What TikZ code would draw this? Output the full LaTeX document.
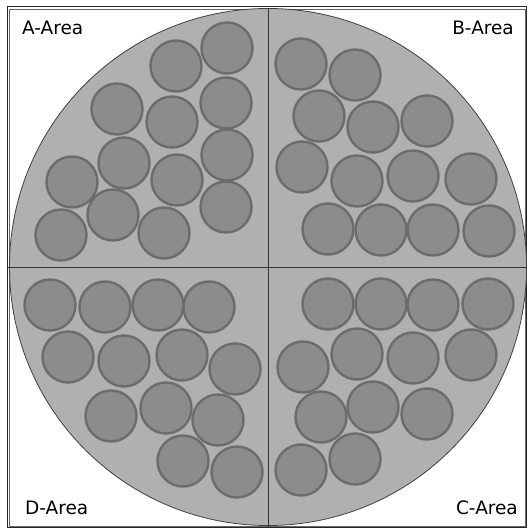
\documentclass[tikz,border=0pt]{standalone}
\usepackage{fontspec}
\setmainfont{DejaVu Sans}
\usepackage{xcolor}
\usepackage{tikz}
\definecolor{plate}{HTML}{B0B0B0}
\definecolor{grain}{HTML}{8C8C8C}
\definecolor{grainedge}{HTML}{6C6C6C}

\begin{document}
\begin{tikzpicture}[x=1pt, y=-1pt,
      every node/.style={font=\fontsize{18.5}{18.5}\selectfont, inner sep=0pt},
      grain/.style={draw=grainedge, fill=grain, line width=2.4pt},
      divider/.style={draw=black!80, line width=1pt}]
    \useasboundingbox (0,0) rectangle (528,529);
    % frame
    \draw[black!60, line width=1.2pt] (9.5,9.5) rectangle (525.5,526.5);
    \draw[black!85, line width=1pt] (7,7) rectangle (526.5,527.5);
    % plate and quarters
    \fill[plate] (268,267) circle (258.5);
    \draw[black!75, line width=0.8pt] (268,267) circle (258.5);
    \coordinate (top) at (268,8);
    \coordinate (bot) at (268,527);
    \coordinate (lft) at (8,267);
    \coordinate (rgt) at (527,267);
    \draw[divider] (top) -- (bot);
    \draw[divider] (lft) -- (rgt);
    % A-Area
    \foreach \px/\py in {227/48, 176/66, 117/109, 172/122, 226/103, 124/163, 72/182,
        177/180, 227/155, 113/215, 61/235, 164/233, 226/207}
      \draw[grain] (\px,\py) circle (25.5);
    % B-Area
    \foreach \px/\py in {301/64, 355/75, 319/116, 373/127, 427/121, 302/167, 357/181,
        413/176, 471/179, 328/229, 381/230, 433/230, 489/231}
      \draw[grain] (\px,\py) circle (25.5);
    % D-Area
    \foreach \px/\py in {50/305, 105/307, 158/305, 209/307, 68/357, 124/361, 182/355,
        235/369, 111/416, 166/408, 218/420, 183/461, 237/472}
      \draw[grain] (\px,\py) circle (25.5);
    % C-Area
    \foreach \px/\py in {328/304, 381/304, 433/305, 488/304, 303/367, 357/354, 413/358,
        471/355, 321/417, 373/407, 427/414, 301/470, 355/459}
      \draw[grain] (\px,\py) circle (25.5);
    % labels
    \node[anchor=west] (areaA) at (22,28) {A-Area};
    \node[anchor=east] (areaB) at (514,28) {B-Area};
    \node[anchor=west] (areaD) at (25,508) {D-Area};
    \node[anchor=east] (areaC) at (518,508) {C-Area};
\end{tikzpicture}
\end{document}
